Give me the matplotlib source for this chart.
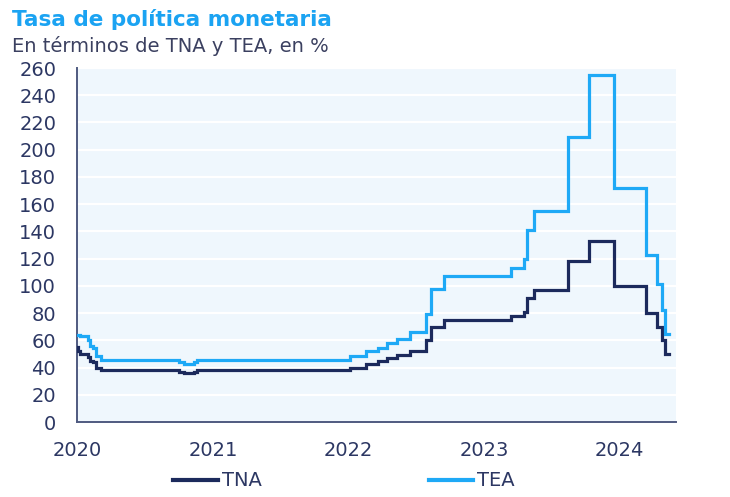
import matplotlib
matplotlib.use("Agg")
import matplotlib.pyplot as plt
import pandas as pd

# ---- data (policy-rate change dates, values in %) ----
change_dates = [
    "2020-01-01", "2020-01-04", "2020-01-09", "2020-01-30", "2020-02-06",
    "2020-02-13", "2020-02-20", "2020-03-06", "2020-10-01", "2020-10-15",
    "2020-11-12", "2020-11-19", "2022-01-06", "2022-02-17", "2022-03-22",
    "2022-04-14", "2022-05-12", "2022-06-16", "2022-07-28", "2022-08-11",
    "2022-09-15", "2023-03-16", "2023-04-20", "2023-04-27", "2023-05-15",
    "2023-08-14", "2023-10-12", "2023-12-18", "2024-03-12", "2024-04-11",
    "2024-04-25", "2024-05-02", "2024-05-13",
]
tna = [55, 52, 50, 48, 45, 44, 40, 38, 37, 36, 37, 38, 40, 42.5, 44.5,
       47, 49, 52, 60, 69.5, 75, 78, 81, 91, 97, 118, 133, 100, 80, 70,
       60, 50, 50]
tea = [64, 64, 63.5, 60, 55.5, 54, 48.3, 45.4, 44.0, 42.6, 44.0, 45.4, 48.3,
       51.8, 54.6, 58.2, 61.2, 65.8, 79.6, 97.4, 107.0, 113.3, 119.4, 141.0,
       154.9, 209.5, 254.9, 171.5, 122.3, 101.2, 82.1, 64.8, 64.8]
year_ticks = ["2020", "2021", "2022", "2023", "2024"]
y_ticks = list(range(0, 261, 20))
series_names = ["TNA", "TEA"]

title = "Tasa de política monetaria"
subtitle = "En términos de TNA y TEA, en %"

# ---- style ----
NAVY = "#1c2a5c"
SKY = "#1ea9f6"
TITLE_BLUE = "#1ba3f2"
TEXT = "#2c3763"
SPINE = "#4f5a80"
BG = "#eff7fd"

plt.rcParams["font.family"] = ["DejaVu Sans"]

W, H = 730, 497
fig = plt.figure(figsize=(W / 100, H / 100), dpi=100)
ax = fig.add_axes([77 / W, 1 - 422 / H, (676 - 77) / W, (422 - 68) / H])
ax.set_facecolor(BG)

dates = pd.to_datetime(change_dates)
l1, = ax.plot(dates, tna, drawstyle="steps-post", color=NAVY, lw=2.3,
              solid_joinstyle="miter", label=series_names[0], zorder=3)
l2, = ax.plot(dates, tea, drawstyle="steps-post", color=SKY, lw=2.3,
              solid_joinstyle="miter", label=series_names[1], zorder=3)

ax.set_ylim(0, 260)
ax.set_yticks(y_ticks)
ax.set_xlim(pd.Timestamp("2020-01-01"), pd.Timestamp("2024-06-01"))
ax.set_xticks(pd.to_datetime([f"{y}-01-01" for y in year_ticks]))
ax.set_xticklabels(year_ticks)

ax.grid(axis="y", color="white", lw=1.6, zorder=1)
ax.set_axisbelow(True)
for s in ["top", "right"]:
    ax.spines[s].set_visible(False)
for s in ["left", "bottom"]:
    ax.spines[s].set_color(SPINE)
    ax.spines[s].set_linewidth(1.4)

ax.tick_params(axis="both", length=0, colors=TEXT, labelsize=14)
ax.tick_params(axis="y", pad=15)
ax.tick_params(axis="x", pad=14)

fig.text(12 / W, 1 - 26 / H, title, fontsize=15.5, fontweight="bold",
         color=TITLE_BLUE, ha="left", va="baseline")
fig.text(12 / W, 1 - 52 / H, subtitle, fontsize=14, color="#3b4060",
         ha="left", va="baseline")

fig.legend(handles=[l1, l2], labels=series_names, loc="center",
           bbox_to_anchor=(344 / W, 1 - 481 / H), ncol=2, frameon=False,
           fontsize=14, handlelength=2.3, handletextpad=0.2,
           columnspacing=8.6, labelcolor=TEXT)
for h in fig.legends[0].legend_handles:
    h.set_linewidth(3.0)

fig.savefig("out.png", dpi=100, facecolor="white")
